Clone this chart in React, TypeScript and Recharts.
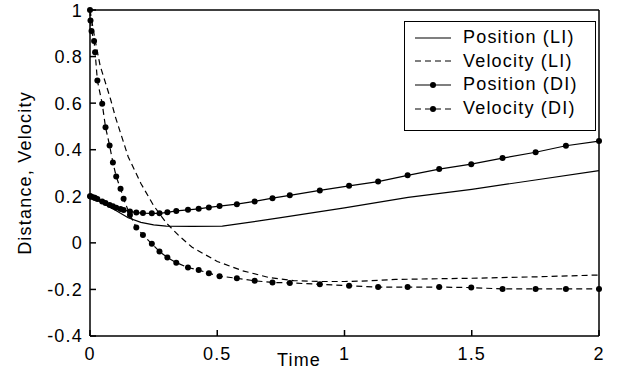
import { LineChart, Line, XAxis, YAxis, Legend } from "recharts";

// time samples of the DI run (shared by both DI curves)
const tDI = [
  0, 0.002, 0.006, 0.016, 0.02, 0.029, 0.048, 0.061, 0.077, 0.09, 0.103, 0.12, 0.132, 0.157,
  0.182, 0.208, 0.243, 0.273, 0.304, 0.339, 0.385, 0.427, 0.467, 0.509, 0.577, 0.647, 0.717,
  0.785, 0.903, 1.018, 1.132, 1.248, 1.372, 1.498, 1.621, 1.751, 1.87, 2.0,
];
const posDI = [
  0.2, 0.2, 0.198, 0.195, 0.193, 0.188, 0.178, 0.171, 0.163, 0.157, 0.151, 0.145, 0.141, 0.135,
  0.13, 0.128, 0.127, 0.127, 0.131, 0.137, 0.142, 0.146, 0.152, 0.158, 0.166, 0.178, 0.192,
  0.204, 0.225, 0.245, 0.263, 0.29, 0.317, 0.338, 0.364, 0.389, 0.417, 0.437,
];
const velDI = [
  1.0, 0.955, 0.91, 0.867, 0.819, 0.697, 0.597, 0.497, 0.418, 0.345, 0.285, 0.232, 0.189, 0.12,
  0.066, 0.034, -0.004, -0.037, -0.063, -0.085, -0.106, -0.117, -0.13, -0.143, -0.152, -0.163, -0.17,
  -0.172, -0.178, -0.184, -0.19, -0.19, -0.19, -0.192, -0.198, -0.198, -0.198, -0.198,
];

// LI run
const tPosLI = [0, 0.05, 0.1, 0.15, 0.2, 0.25, 0.3, 0.4, 0.52, 0.75, 1.0, 1.25, 1.5, 1.75, 2.0];
const posLI = [0.2, 0.17, 0.14, 0.108, 0.088, 0.077, 0.072, 0.071, 0.072, 0.108, 0.15, 0.195, 0.23, 0.27, 0.31];
const tVelLI = [
  0, 0.02, 0.04, 0.06, 0.08, 0.1, 0.15, 0.2, 0.25, 0.3, 0.35, 0.4, 0.5, 0.6, 0.7, 0.8, 0.9, 1.0,
  1.1, 1.2, 1.5, 1.75, 2.0,
];
const velLI = [
  1.0, 0.87, 0.76, 0.69, 0.62, 0.54, 0.37, 0.255, 0.16, 0.085, 0.03, -0.018, -0.08, -0.12, -0.148,
  -0.162, -0.166, -0.166, -0.163, -0.157, -0.152, -0.146, -0.138,
];

const xTicks = [0, 0.5, 1, 1.5, 2];
const yTicks = [-0.4, -0.2, 0, 0.2, 0.4, 0.6, 0.8, 1];

const seriesNames = ["Position (LI)", "Velocity (LI)", "Position (DI)", "Velocity (DI)"];

const FONT = "'Liberation Sans', Arial, sans-serif";
const FS = 18;
const LS = 1.2;
const tickStyle = { fill: "#000", fontSize: FS, fontFamily: FONT, letterSpacing: LS };

const toRows = (ts: number[], vs: number[]) => ts.map((t, i) => ({ t, v: vs[i] }));

const posLIData = toRows(tPosLI, posLI);
const velLIData = toRows(tVelLI, velLI);
const posDIData = toRows(tDI, posDI);
const velDIData = toRows(tDI, velDI);

const DASH = "6 4";

function LegendBox() {
  const styles = [
    { dash: undefined, dot: false },
    { dash: DASH, dot: false },
    { dash: undefined, dot: true },
    { dash: DASH, dot: true },
  ];
  return (
    <div
      style={{
        border: "1px solid #000",
        background: "#fff",
        width: 190,
        height: 104,
        boxSizing: "content-box",
        paddingTop: 4,
        fontFamily: FONT,
        fontSize: FS,
        letterSpacing: LS,
        color: "#000",
      }}
    >
      {seriesNames.map((name, i) => (
        <div key={name} style={{ display: "flex", alignItems: "center", height: 23.6 }}>
          <svg width={58} height={12} style={{ flex: "none" }}>
            <line
              x1={10}
              x2={46}
              y1={6}
              y2={6}
              stroke="#000"
              strokeWidth={1.2}
              strokeDasharray={styles[i].dash}
            />
            {styles[i].dot && <circle cx={28} cy={6} r={3} fill="#000" />}
          </svg>
          <span style={{ whiteSpace: "nowrap" }}>{name}</span>
        </div>
      ))}
    </div>
  );
}

export default function App() {
  return (
    <div style={{ position: "absolute", left: 0, top: 0, background: "#fff" }}>
      <LineChart width={620} height={371} margin={{ top: 9, right: 20, bottom: 5, left: 30 }}>
        <XAxis
          dataKey="t"
          type="number"
          domain={[0, 2]}
          ticks={xTicks}
          height={30}
          tickSize={-6}
          tickMargin={17}
          tick={tickStyle}
          stroke="#000"
          strokeWidth={1.5}
          label={{
            content: (p: any) => (
              <text
                x={p.viewBox.x + 209}
                y={p.viewBox.y + 30}
                textAnchor="middle"
                fontFamily={FONT}
                fontSize={FS}
                letterSpacing={LS}
                fill="#000"
              >
                Time
              </text>
            ),
          }}
        />
        <XAxis
          xAxisId="top"
          orientation="top"
          type="number"
          domain={[0, 2]}
          ticks={xTicks}
          height={1}
          tickSize={-6}
          tick={false}
          stroke="#000"
          strokeWidth={1.5}
        />
        <YAxis
          type="number"
          domain={[-0.4, 1]}
          ticks={yTicks}
          width={60}
          tickSize={-6}
          tickMargin={13}
          tick={tickStyle}
          stroke="#000"
          strokeWidth={1.5}
          label={{
            content: (p: any) => {
              const x = p.viewBox.x + p.viewBox.width - 59;
              const y = 173;
              return (
                <text
                  x={x}
                  y={y}
                  transform={`rotate(-90 ${x} ${y})`}
                  textAnchor="middle"
                  fontFamily={FONT}
                  fontSize={FS}
                  letterSpacing={LS}
                  fill="#000"
                >
                  Distance, Velocity
                </text>
              );
            },
          }}
        />
        <YAxis
          yAxisId="right"
          orientation="right"
          type="number"
          domain={[-0.4, 1]}
          ticks={yTicks}
          width={1}
          tickSize={-6}
          tick={false}
          stroke="#000"
          strokeWidth={1.5}
        />
        <Legend
          layout="vertical"
          align="center"
          verticalAlign="middle"
          wrapperStyle={{ position: "absolute", left: 404, top: 21, width: 192, height: 108 }}
          content={() => <LegendBox />}
        />
        <Line
          data={posLIData}
          dataKey="v"
          name={seriesNames[0]}
          stroke="#000"
          strokeWidth={1.2}
          dot={false}
          type="linear"
          isAnimationActive={false}
        />
        <Line
          data={velLIData}
          dataKey="v"
          name={seriesNames[1]}
          stroke="#000"
          strokeWidth={1.2}
          strokeDasharray={DASH}
          dot={false}
          type="linear"
          isAnimationActive={false}
        />
        <Line
          data={posDIData}
          dataKey="v"
          name={seriesNames[2]}
          stroke="#000"
          strokeWidth={1.2}
          dot={{ r: 3, fill: "#000", stroke: "#000", strokeWidth: 0 }}
          type="linear"
          isAnimationActive={false}
        />
        <Line
          data={velDIData}
          dataKey="v"
          name={seriesNames[3]}
          stroke="#000"
          strokeWidth={1.2}
          strokeDasharray={DASH}
          dot={{ r: 3, fill: "#000", stroke: "#000", strokeWidth: 0, strokeDasharray: "" }}
          type="linear"
          isAnimationActive={false}
        />
      </LineChart>
    </div>
  );
}
